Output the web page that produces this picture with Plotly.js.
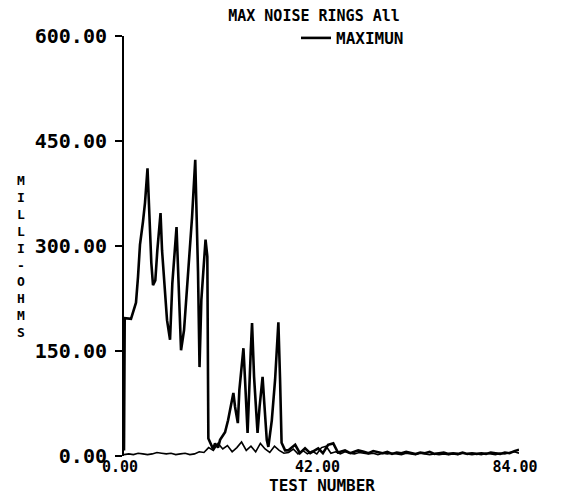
<!DOCTYPE html>
<html>
<head>
<meta charset="utf-8">
<script src="https://cdn.plot.ly/plotly-3.0.1.min.js"></script>
<style>
  html, body { margin: 0; padding: 0; background: #ffffff; }
  #chart { width: 565px; height: 494px; }
</style>
</head>
<body>
<div id="chart"></div>
<script>
// ---- data ----
var maxTest = [0,0.15,1.49,2.28,2.55,2.98,3.40,4.04,4.47,5.0,
  5.47,5.81,6.17,6.66,7.09,7.77,8.09,8.66,9.15,9.79,
  10.28,11.17,11.70,12.13,12.77,13.77,14.47,15.15,15.74,16.06,
  16.45,17.34,17.72,17.94,18.30,18.94,19.36,20.0,20.43,21.49,
  22.13,22.91,23.26,23.62,24.21,24.53,25.06,25.40,25.74,26.28,
  26.96,27.23,27.66,28.40,28.83,29.47,29.79,30.36,30.70,31.43,
  32.13,32.83,33.19,33.51,34.26,
  34.9,36.4,37.4,38.5,39.6,41.3,42.3,43.4,44.5,45.5,
  47.0,48.1,49.8,
  51,52,53,54,55,56,57,58,59,60,61,62,63,64,65,66,67,68,69,70,
  71,72,73,74,75,76,77,78,79,80,81,82,83,84];
var maxOhms = [8,197,196,213,219,256,302,335,362,411,
  327,276,244,251,294,347,294,237,194,166,
  247,327,237,151,180,276,341,423,263,127,
  223,309,285,25,20,10,18,12,23,34,
  51,76,90,70,47,94,133,154,109,33,
  151,190,113,33,70,113,80,23,13,51,
  109,191,109,19,8,
  8,16,4,11,4,11,4,16,18,5,
  8,4,8,
  6,4,7,5,4,6,3,5,4,6,5,3,5,4,6,3,4,5,3,4,
  3,5,3,4,3,4,3,5,4,3,5,4,7,9];

var minTest = [];
for (var i = 0; i <= 84; i++) minTest.push(i);
var minOhms = [2,3,2,4,3,2,3,5,4,3,4,2,3,4,2,3,6,5,
  12,8,18,10,15,6,12,20,8,14,6,18,10,5,14,8,4,
  5,10,3,8,3,7,3,12,14,4,6,3,6,4,3,5,4,3,4,2,
  4,3,4,3,2,4,3,2,4,3,2,3,2,3,2,3,2,4,3,2,
  3,2,4,3,2,4,3,5,6,4];

var xTicks = [0, 42, 84];
var yTicks = [0, 150, 300, 450, 600];
var chartTitle = 'MAX NOISE RINGS All';
var seriesName = 'MAXIMUN';
var xTitle = 'TEST NUMBER';
var yTitle = 'MILLI-OHMS';

// ---- chart ----
var mono = 'DejaVu Sans Mono, monospace';

var traces = [
  {
    x: minTest, y: minOhms, type: 'scatter', mode: 'lines',
    line: {color: '#000', width: 1.6},
    showlegend: false, hoverinfo: 'skip'
  },
  {
    x: maxTest, y: maxOhms, type: 'scatter', mode: 'lines',
    name: '<b>' + seriesName + '</b>',
    line: {color: '#000', width: 2.6}
  }
];

var layout = {
  width: 565, height: 494,
  margin: {l: 124, r: 46, t: 36, b: 38, pad: 0},
  paper_bgcolor: '#fff', plot_bgcolor: '#fff',
  font: {family: mono, color: '#000'},
  title: {
    text: '<b>' + chartTitle + '</b>',
    x: 314 / 565, xanchor: 'center',
    y: 1 - 16 / 494, yanchor: 'middle',
    font: {family: mono, size: 15, color: '#000', weight: 'bold'}
  },
  showlegend: true,
  legend: {
    x: (296 - 124) / 395, xanchor: 'left',
    y: (456 - 38) / 420, yanchor: 'middle',
    bgcolor: 'rgba(0,0,0,0)', borderwidth: 0,
    itemwidth: 30,
    font: {family: mono, size: 16, color: '#000', weight: 'bold'}
  },
  xaxis: {
    range: [0, 84],
    tickvals: xTicks, tickformat: '.2f',
    showgrid: false, zeroline: false, showline: false,
    ticks: '', ticklabelshift: -4, ticklabelstandoff: 0,
    tickfont: {family: mono, size: 15, color: '#000', weight: 'bold'}
  },
  yaxis: {
    range: [0, 600],
    tickvals: yTicks, tickformat: '.2f',
    showgrid: false, zeroline: false,
    showline: true, linecolor: '#000', linewidth: 2,
    ticks: 'outside', ticklen: 7, tickwidth: 2, tickcolor: '#000',
    ticklabelstandoff: 4,
    tickfont: {family: mono, size: 20, color: '#000', weight: 'bold'}
  },
  annotations: [
    {
      xref: 'paper', yref: 'paper',
      x: (21 - 124) / 395,
      y: (456 - 256) / 420,
      xanchor: 'center', yanchor: 'middle',
      text: '<b>' + yTitle.split('').join('<br>') + '</b>',
      showarrow: false, align: 'center',
      font: {family: mono, size: 13, color: '#000', weight: 'bold'}
    },
    {
      xref: 'paper', yref: 'paper',
      x: 0.5, y: (456 - 494) / 420,
      xanchor: 'center', yanchor: 'bottom', yshift: -3,
      text: '<b>' + xTitle + '</b>',
      showarrow: false,
      font: {family: mono, size: 16, color: '#000', weight: 'bold'}
    }
  ]
};

Plotly.newPlot('chart', traces, layout, {displayModeBar: false, staticPlot: true});
</script>
</body>
</html>
